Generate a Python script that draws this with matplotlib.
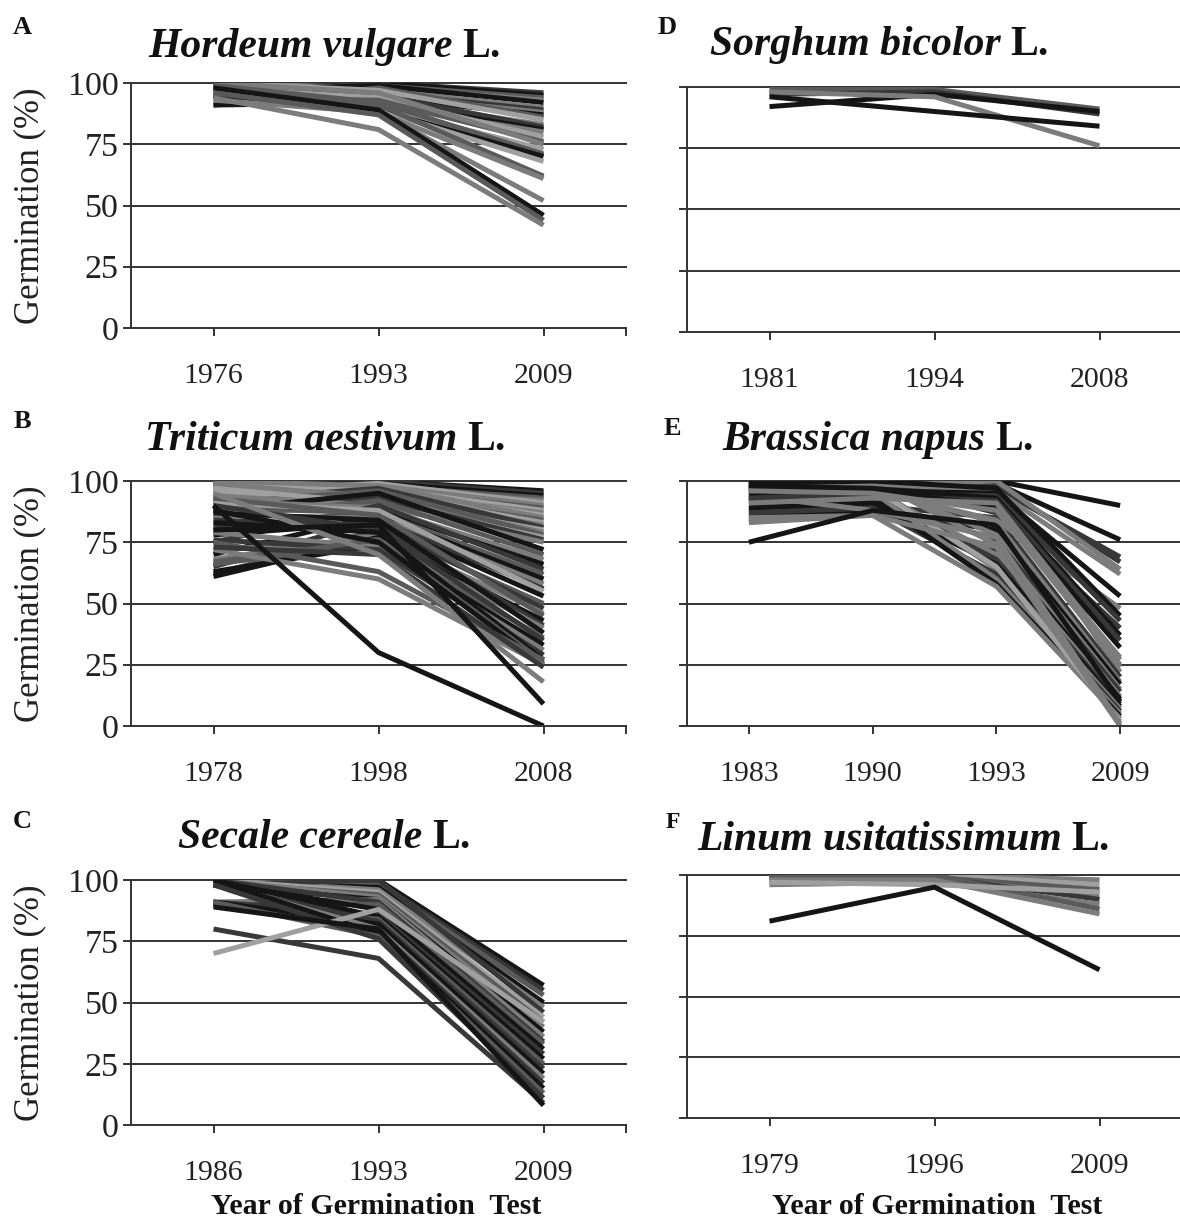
import matplotlib
matplotlib.use("Agg")
import matplotlib.pyplot as plt

# ---------------- data ----------------
A_years = ["1976", "1993", "2009"]
A_lines = [
    [100, 100, 96], [99, 100, 95], [98, 99, 94], [100, 98, 93], [97, 99, 92],
    [96, 97, 90], [99, 96, 89], [98, 95, 88], [95, 94, 87], [91, 98, 86],
    [100, 97, 85], [97, 93, 83], [99, 95, 82], [91, 92, 81], [96, 91, 80],
    [98, 94, 78], [94, 93, 76], [100, 96, 75], [97, 90, 73], [99, 92, 71],
    [95, 89, 70], [96, 89, 68], [98, 91, 62], [93, 88, 61], [97, 88, 52],
    [98, 89, 46], [96, 87, 44], [94, 81, 42],
]
A_shades = "dkmgkgdgkmlgdkglmglmklmggkmg"

B_years = ["1978", "1998", "2008"]
B_lines = [
    [100, 100, 96], [99, 100, 95], [98, 99, 94], [97, 98, 93], [100, 97, 92],
    [96, 99, 91], [95, 98, 90], [99, 96, 89], [98, 97, 88], [94, 95, 87],
    [97, 96, 86], [100, 98, 85], [93, 94, 84], [96, 95, 83], [99, 93, 82],
    [92, 97, 81], [95, 92, 80], [98, 94, 79], [91, 96, 78], [97, 91, 77],
    [90, 93, 76], [94, 90, 75], [88, 95, 72], [85, 92, 70], [92, 89, 68],
    [80, 88, 66], [75, 90, 64], [89, 87, 62], [70, 86, 60], [86, 85, 58],
    [65, 84, 56], [91, 88, 55], [78, 83, 53], [62, 80, 50], [84, 82, 48],
    [68, 78, 46], [93, 86, 45], [61, 77, 43], [82, 81, 41], [72, 76, 40],
    [87, 84, 38], [66, 75, 36], [90, 80, 35], [63, 74, 33], [79, 73, 31],
    [76, 72, 29], [83, 79, 27], [67, 76, 26], [88, 75, 25], [72, 60, 25],
    [75, 63, 27], [73, 70, 24], [95, 70, 18], [80, 82, 9], [90, 30, 0],
]
B_shades = "kdkmglgmlglgmlgdlgmldgkmgkdmkgdlkmdgmkdgkmdkgdkmkgmdgkk"

C_years = ["1986", "1993", "2009"]
C_lines = [
    [100, 100, 57], [100, 99, 55], [100, 98, 53], [99, 97, 50], [100, 96, 48],
    [98, 100, 46], [100, 95, 44], [99, 94, 42], [100, 93, 40], [98, 92, 38],
    [91, 92, 36], [100, 91, 34], [90, 90, 33], [99, 88, 31], [91, 86, 29],
    [100, 85, 27], [90, 84, 25], [98, 83, 23], [91, 82, 21], [99, 80, 19],
    [90, 79, 17], [100, 78, 15], [91, 77, 13], [98, 76, 11], [80, 68, 9],
    [70, 88, 42], [89, 80, 8],
]
C_shades = "kdmkgdlmgkgdmkdkmdkgdkmddlk"

D_years = ["1981", "1994", "2008"]
D_lines = [
    [99, 99, 91], [97, 98, 89], [92, 97, 90], [98, 96, 76], [96, 90, 84],
]
D_shades = "mdkgk"

E_years = ["1983", "1990", "1993", "2009"]
E_lines = [
    [100, 100, 99, 24], [99, 98, 95, 22], [88, 90, 85, 20], [95, 97, 83, 18],
    [86, 88, 80, 17], [100, 99, 78, 15], [90, 92, 76, 14], [98, 100, 74, 12],
    [84, 87, 72, 11], [97, 96, 70, 10], [93, 94, 68, 9], [89, 91, 66, 8],
    [100, 98, 64, 7], [87, 89, 62, 6], [96, 95, 60, 5], [92, 93, 58, 4],
    [85, 86, 57, 3], [99, 97, 65, 2], [94, 88, 77, 1], [83, 86, 73, 0],
    [75, 88, 82, 10], [98, 99, 88, 28], [97, 100, 87, 40], [95, 96, 84, 48],
    [99, 100, 100, 90], [98, 99, 99, 76], [97, 98, 97, 69], [96, 97, 98, 67],
    [95, 98, 100, 64], [100, 99, 96, 62], [94, 96, 95, 53], [99, 100, 97, 45],
    [93, 95, 94, 43], [98, 97, 93, 37], [92, 94, 92, 35], [97, 96, 90, 32],
    [91, 93, 91, 27], [96, 95, 88, 25],
]
E_shades = "ggdgkgdgkgdkgdgkglggkgdgkkddggkkdkdkgg"

F_years = ["1979", "1996", "2009"]
F_lines = [
    [100, 100, 98], [99, 100, 96], [98, 99, 94], [97, 98, 92], [100, 99, 90],
    [96, 97, 88], [99, 100, 86], [98, 98, 84], [97, 96, 93], [81, 95, 61],
]
F_shades = "glmgdgmglk"

# ---------------- style ----------------
W, H = 1180, 1220
SHADE = {"k": "#151515", "d": "#383838", "m": "#5a5a5a", "g": "#7c7c7c", "l": "#a0a0a0"}
AXC = "#333333"
SERIF = ["Liberation Serif", "DejaVu Serif"]
plt.rcParams["font.family"] = SERIF

fig = plt.figure(figsize=(W / 100, H / 100), dpi=100)


def px_axes(left, top, right, bottom):
    return fig.add_axes([left / W, 1 - bottom / H, (right - left) / W, (bottom - top) / H])


def panel(ax, years, lines, shades, ylabels):
    n = len(years)
    xs = list(range(n))
    for vals, s in zip(lines, shades):
        ax.plot(xs, vals, color=SHADE[s], lw=3.6, solid_capstyle="butt",
                solid_joinstyle="round", zorder=2)
    ax.set_xlim(-0.5, n - 0.5)
    ax.set_ylim(0, 100)
    for v in (25, 50, 75, 100):
        ax.axhline(v, color=AXC, lw=1.4, zorder=0.5, clip_on=False)
    for sp in ("top", "right"):
        ax.spines[sp].set_visible(False)
    for sp in ("left", "bottom"):
        ax.spines[sp].set_color(AXC)
        ax.spines[sp].set_linewidth(1.4)
    ax.set_xticks(xs + [n - 0.5])
    ax.set_xticklabels(years + [""])
    ax.set_yticks([0, 25, 50, 75, 100])
    if ylabels:
        ax.set_yticklabels(["0", "25", "50", "75", "100"])
    else:
        ax.set_yticklabels([])
    ax.tick_params(axis="x", direction="out", length=6, width=1.4, color=AXC,
                   labelsize=21.5, pad=19, labelcolor="#222222")
    ax.tick_params(axis="y", direction="out", length=6, width=1.4, color=AXC,
                   labelsize=24.5, pad=3, labelcolor="#222222")
    ax.set_facecolor("none")


axA = px_axes(131, 83, 626, 328)
axB = px_axes(131, 481, 626, 726)
axC = px_axes(131, 880, 626, 1125)
axD = px_axes(687, 87, 1182, 332)
axE = px_axes(687, 481, 1182, 726)
axF = px_axes(687, 875, 1182, 1118)

panel(axA, A_years, A_lines, A_shades, True)
panel(axB, B_years, B_lines, B_shades, True)
panel(axC, C_years, C_lines, C_shades, True)
panel(axD, D_years, D_lines, D_shades, False)
panel(axE, E_years, E_lines, E_shades, False)
panel(axF, F_years, F_lines, F_shades, False)

renderer = fig.canvas.get_renderer()


def title(px, py, italic_part, size=30):
    t = fig.text(px / W, 1 - py / H, italic_part, fontsize=size, fontweight="bold",
                 fontstyle="italic", ha="left", va="center", color="#111111")
    bb = t.get_window_extent(renderer)
    fig.text((bb.x1 + 10) / W, 1 - py / H, "L.", fontsize=size, fontweight="bold",
             ha="left", va="center", color="#111111")


title(148, 47, "Hordeum vulgare")
title(145, 440, "Triticum aestivum")
title(178, 838, "Secale cereale")
title(710, 45, "Sorghum bicolor")
title(722, 440, "Brassica napus")
title(697, 840, "Linum usitatissimum")

for letter, x, y, fs in [("A", 22, 27, 19), ("B", 22, 422, 19), ("C", 22, 822, 19),
                         ("D", 667, 27, 19), ("E", 672, 428, 19), ("F", 673, 823, 17)]:
    fig.text(x / W, 1 - y / H, letter, fontsize=fs, fontweight="bold",
             ha="center", va="center", color="#111111")

for cy in ((83 + 328) / 2, (481 + 726) / 2, (880 + 1125) / 2):
    fig.text(30 / W, 1 - cy / H, "Germination (%)", fontsize=25, rotation=90,
             ha="center", va="center", color="#222222")

for cx in (376, 937):
    fig.text(cx / W, 1 - 1207 / H, "Year of Germination  Test", fontsize=21.5,
             fontweight="bold", ha="center", va="center", color="#111111")

fig.savefig("out.png", dpi=100, facecolor="white")
